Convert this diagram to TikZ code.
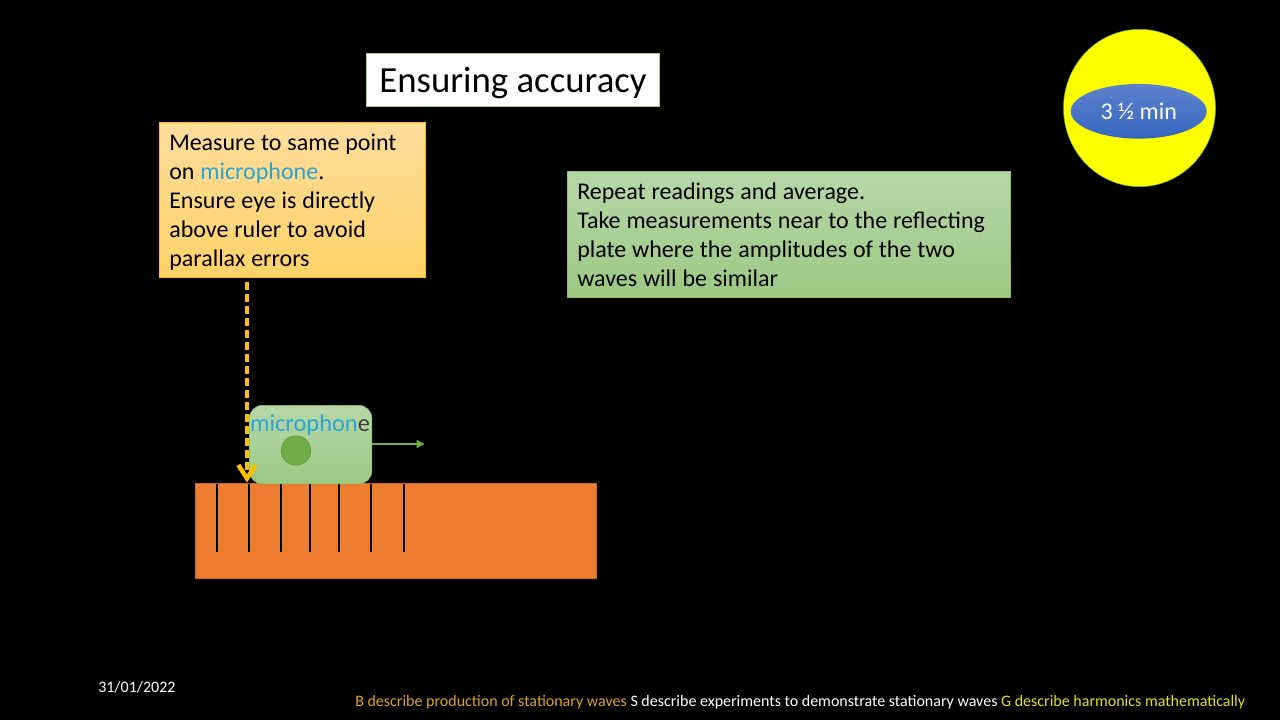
\documentclass[tikz,border=0pt]{standalone}
\usepackage{fontspec}
\setmainfont{Carlito}
\usetikzlibrary{arrows.meta,shapes.geometric}
\definecolor{micblue}{HTML}{2AA5D6}
\definecolor{boxgreen}{HTML}{70AD47}
\definecolor{greentop}{HTML}{B7D7A8}
\definecolor{greenbot}{HTML}{9CC883}
\definecolor{amber}{HTML}{FFC000}
\definecolor{ambertop}{HTML}{FFDD9C}
\definecolor{amberbot}{HTML}{FFD268}
\definecolor{timetop}{HTML}{5F82CC}
\definecolor{timebot}{HTML}{3566C0}
\definecolor{rulerorange}{HTML}{ED7D31}
\definecolor{timeryellow}{HTML}{FFFF00}
\definecolor{bandgold}{HTML}{DCA426}
\definecolor{bandyellow}{HTML}{E0E020}
\def\tightwords{\spaceskip=.245em\relax}
\tikzset{
  notebox/.style={anchor=north west,inner xsep=7.5pt,inner ysep=4pt,align=left,text=black,font=\fontsize{18}{21.8}\selectfont},
  footer/.style={anchor=base west,inner sep=0pt,font=\fontsize{12}{14}\selectfont}
}
\begin{document}
\begin{tikzpicture}[x=0.75pt,y=-0.75pt]
\useasboundingbox[fill=black] (0,0) rectangle (1280,720);

% title
\node[draw=boxgreen!60,fill=white,minimum width=219.5pt,minimum height=40pt,text height=24.5pt,text depth=5.3pt,font=\fontsize{27.6}{32}\selectfont,text=black] (title) at (513,80) {Ensuring accuracy};

% timer
\node[ellipse,draw=boxgreen,fill=timeryellow,minimum width=114pt,minimum height=118pt,inner sep=0pt] (timer) at (1139.5,108) {};
\node[ellipse,top color=timetop,bottom color=timebot,minimum width=102pt,minimum height=41pt,inner sep=0pt,text=white,font=\fontsize{18}{21}\selectfont] (time) at (1138.7,111.3) {3 ½ min};

% notes
\node[notebox,draw=amber,top color=ambertop,bottom color=amberbot,minimum width=199.5pt,minimum height=116pt,text width=184.5pt] (eyenote) at (159,122.5)
  {\tightwords\rule{0pt}{15pt}Measure to same point\\on {\color{micblue}microphone}.\\Ensure eye is directly\\above ruler to avoid\\parallax errors};
\node[notebox,draw=boxgreen!80,top color=greentop,bottom color=greenbot,minimum width=332.5pt,minimum height=94pt,text width=317.5pt] (avgnote) at (567,171.5)
  {\tightwords Repeat readings and average.\\Take measurements near to the reflecting\\plate where the amplitudes of the two\\waves will be similar};

% ruler
\node[anchor=north west,draw=rulerorange!85!black,fill=rulerorange,minimum width=301pt,minimum height=71.5pt,inner sep=0pt] (ruler) at (195,483) {};
\foreach \tick in {217,249,281,310,339,371,404}
  \draw[black,line width=1.1pt] (\tick,484) -- (\tick,552);

% microphone
\node[anchor=north west,draw=boxgreen!85,top color=greentop,bottom color=greenbot,rounded corners=10pt,minimum width=92pt,minimum height=59pt,inner sep=0pt] (mic) at (249,405) {};
\node[font=\fontsize{18.3}{21}\selectfont,inner sep=0pt,text=micblue] (miclabel) at (310,425) {microphon\textcolor{black!75}{e}};
\node[circle,draw=boxgreen!80!black,fill=boxgreen,minimum width=22pt,inner sep=0pt] (capsule) at (296,450.5) {};
\coordinate (micend) at (424.5,444);
\draw[boxgreen,line width=1pt,-{Triangle[length=6pt,width=6pt]}] (mic.east |- micend) -- (micend);

% sight line
\coordinate (sight) at (247,482.5);
\draw[amber,line width=2.8pt,dash pattern=on 6pt off 3pt,-{Straight Barb[length=10pt,width=13pt,line width=3.4pt]}] (eyenote.south -| sight) ++(0,4) -- (sight);

% footer
\node[footer,text=white] (date) at (98,692) {31/01/2022};
\node[footer] (bands) at (355,706) {\textcolor{bandgold}{B describe production of stationary waves} \textcolor{white}{S describe experiments to demonstrate stationary waves} \textcolor{bandyellow}{G describe harmonics mathematically}};
\end{tikzpicture}
\end{document}
